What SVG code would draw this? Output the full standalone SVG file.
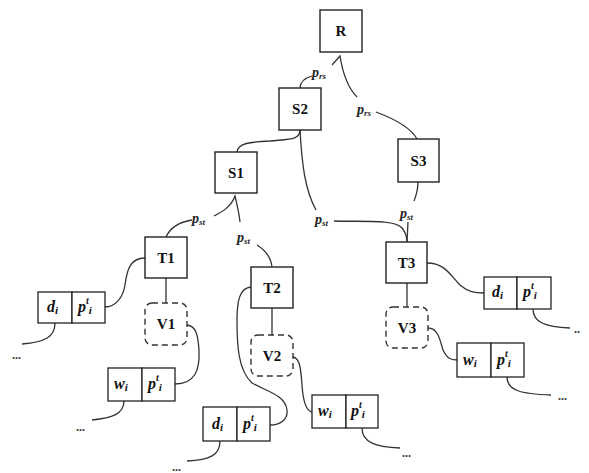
<svg xmlns="http://www.w3.org/2000/svg" width="589" height="473" viewBox="0 0 589 473">
<style>
.box{fill:#fff;stroke:#222;stroke-width:1.4}
.vbox{fill:#fff;stroke:#333;stroke-width:1.4;stroke-dasharray:6 4}
.cell{fill:#fff;stroke:#222;stroke-width:1.3}
.lbl{font-family:"Liberation Serif",serif;font-size:15px;font-weight:bold;text-anchor:middle;fill:#111}
.ci{font-family:"Liberation Serif",serif;font-size:16px;font-weight:bold;font-style:italic;fill:#111}
.ep{font-family:"Liberation Serif",serif;font-size:14px;font-style:italic;font-weight:bold;fill:#222}
.dots{font-family:"Liberation Serif",serif;font-size:12px;font-weight:bold;fill:#333}
.c{fill:none;stroke:#333;stroke-width:1.3}
</style>
<rect width="589" height="473" fill="#fff"/>
<g id="connectors">
<path class="c" d="M300,88 C300,81 305,78 312,76"/>
<path class="c" d="M332,65 L340,56 C343,75 348,88 357,97"/>
<path class="c" d="M376,112 C392,118 410,126 417,139"/>
<path class="c" d="M300,130 C300,140 290,139 270,141 C250,142 238,143 237,152"/>
<path class="c" d="M300,130 C302,165 305,190 316,210"/>
<path class="c" d="M334,221 C360,222 395,219 402,228 C406,233 407,238 407,242"/>
<path class="c" d="M418,182 C418,190 416,196 414,201"/>
<path class="c" d="M408,222 L407,242"/>
<path class="c" d="M214,216 C222,212 231,207 235,196 C237,205 239,212 240,222"/>
<path class="c" d="M192,220 C180,222 170,228 166,237"/>
<path class="c" d="M257,245 C265,250 271,258 272,267"/>
<path class="c" d="M145,258 C130,258 127,270 125,285 C123,298 115,307 105,307"/>
<path class="c" d="M166,278 L166,303"/>
<path class="c" d="M187,325 C196,326 198,335 199,350 C200,370 195,384 175,384"/>
<path class="c" d="M251,287 C240,288 237,300 237,320 C237,345 238,370 252,383 C268,392 285,395 287,410 C288,420 280,425 270,425"/>
<path class="c" d="M272,308 L272,335"/>
<path class="c" d="M293,357 C300,358 301,370 302,385 C303,400 306,411 312,412"/>
<path class="c" d="M427,263 C445,263 450,275 460,285 C468,292 475,293 484,293"/>
<path class="c" d="M407,283 L407,307"/>
<path class="c" d="M428,328 C438,328 440,340 443,350 C447,358 450,360 457,360"/>
<path class="c" d="M55,323 C55,337 45,342 22,344"/>
<path class="c" d="M124,401 C124,414 112,418 92,420"/>
<path class="c" d="M220,441 C220,455 210,460 187,461"/>
<path class="c" d="M362,428 C362,442 375,447 400,448"/>
<path class="c" d="M533,309 C533,322 545,327 570,328"/>
<path class="c" d="M507,377 C507,390 520,394 551,395"/>
<text class="ep" x="312" y="77">p<tspan font-size="9" dy="2">rs</tspan></text>
<text class="ep" x="357" y="114">p<tspan font-size="9" dy="2">rs</tspan></text>
<text class="ep" x="192" y="223">p<tspan font-size="9" dy="2">st</tspan></text>
<text class="ep" x="237" y="242">p<tspan font-size="9" dy="2">st</tspan></text>
<text class="ep" x="315" y="224">p<tspan font-size="9" dy="2">st</tspan></text>
<text class="ep" x="400" y="218">p<tspan font-size="9" dy="2">st</tspan></text>
<text class="dots" x="12" y="359">...</text>
<text class="dots" x="76" y="431">...</text>
<text class="dots" x="172" y="471">...</text>
<text class="dots" x="402" y="457">...</text>
<text class="dots" x="574" y="333">..</text>
<text class="dots" x="558" y="400">...</text>
</g>
<g id="R"><rect class="box" x="320" y="10" width="42" height="42"/><text class="lbl" x="341" y="36">R</text></g>
<g id="S2"><rect class="box" x="279" y="88" width="42" height="42"/><text class="lbl" x="300" y="114">S2</text></g>
<g id="S3"><rect class="box" x="398" y="139" width="41" height="43"/><text class="lbl" x="418.5" y="166">S3</text></g>
<g id="S1"><rect class="box" x="215" y="152" width="42" height="41"/><text class="lbl" x="236" y="178">S1</text></g>
<g id="T1"><rect class="box" x="145" y="237" width="42" height="41"/><text class="lbl" x="166" y="263">T1</text></g>
<g id="T2"><rect class="box" x="251" y="267" width="42" height="41"/><text class="lbl" x="272" y="293">T2</text></g>
<g id="T3"><rect class="box" x="386" y="242" width="41" height="41"/><text class="lbl" x="406.5" y="268">T3</text></g>
<g id="V1"><rect class="vbox" x="145" y="303" width="42" height="42" rx="7"/><text class="lbl" x="166" y="329">V1</text></g>
<g id="V2"><rect class="vbox" x="251" y="335" width="42" height="41" rx="7"/><text class="lbl" x="272" y="361">V2</text></g>
<g id="V3"><rect class="vbox" x="386" y="307" width="42" height="41" rx="7"/><text class="lbl" x="407" y="333">V3</text></g>
<g id="B1"><rect class="cell" x="38" y="292" width="34" height="31"/><rect class="cell" x="72" y="292" width="33" height="31"/>
<text class="ci" x="47" y="312">d<tspan font-size="11" dy="2">i</tspan></text>
<text class="ci" x="78" y="312">p<tspan font-size="10" dy="-8">t</tspan><tspan font-size="11" dy="10">i</tspan></text></g>
<g id="B2"><rect class="cell" x="108" y="368" width="34" height="33"/><rect class="cell" x="142" y="368" width="33" height="33"/>
<text class="ci" x="114" y="389">w<tspan font-size="11" dy="2">i</tspan></text>
<text class="ci" x="148" y="389">p<tspan font-size="10" dy="-8">t</tspan><tspan font-size="11" dy="10">i</tspan></text></g>
<g id="B3"><rect class="cell" x="203" y="407" width="34" height="34"/><rect class="cell" x="237" y="407" width="33" height="34"/>
<text class="ci" x="212" y="429">d<tspan font-size="11" dy="2">i</tspan></text>
<text class="ci" x="243" y="429">p<tspan font-size="10" dy="-8">t</tspan><tspan font-size="11" dy="10">i</tspan></text></g>
<g id="B4"><rect class="cell" x="312" y="395" width="34" height="33"/><rect class="cell" x="346" y="395" width="32" height="33"/>
<text class="ci" x="318" y="416">w<tspan font-size="11" dy="2">i</tspan></text>
<text class="ci" x="351" y="416">p<tspan font-size="10" dy="-8">t</tspan><tspan font-size="11" dy="10">i</tspan></text></g>
<g id="B5"><rect class="cell" x="484" y="277" width="33" height="32"/><rect class="cell" x="517" y="277" width="34" height="32"/>
<text class="ci" x="492" y="297">d<tspan font-size="11" dy="2">i</tspan></text>
<text class="ci" x="523" y="297">p<tspan font-size="10" dy="-8">t</tspan><tspan font-size="11" dy="10">i</tspan></text></g>
<g id="B6"><rect class="cell" x="457" y="343" width="34" height="34"/><rect class="cell" x="491" y="343" width="33" height="34"/>
<text class="ci" x="463" y="365">w<tspan font-size="11" dy="2">i</tspan></text>
<text class="ci" x="497" y="365">p<tspan font-size="10" dy="-8">t</tspan><tspan font-size="11" dy="10">i</tspan></text></g>
</svg>
